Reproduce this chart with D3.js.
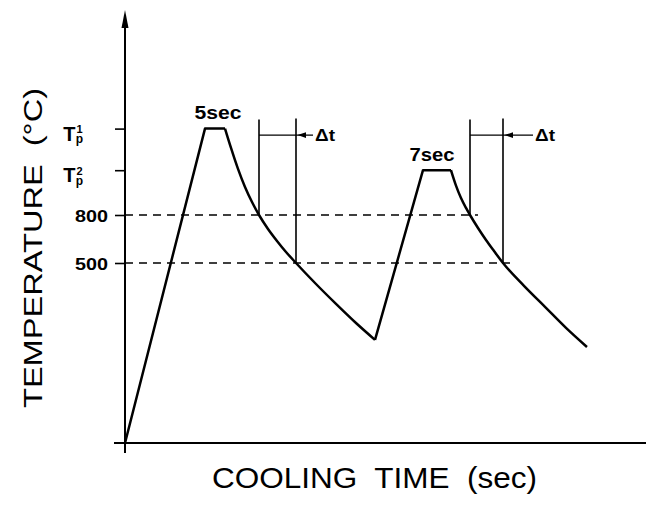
<!DOCTYPE html>
<html>
<head>
<meta charset="utf-8">
<script src="https://cdn.jsdelivr.net/npm/d3@7"></script>
<style>
  body { margin: 0; background: #fff; }
  svg { display: block; }
</style>
</head>
<body>
<svg id="chart" width="646" height="511"></svg>
<script>
// Double thermal cycle: heating to a peak, holding, then cooling; repeated twice.
const roomTemp = 20;                 // °C at the start of the cycle
const peakTemps = [1340, 1080];      // T_p^1, T_p^2 (°C)
const holdTimes = [5, 7];            // hold at peak (sec)
const riseStartTime = [0, 62.5];     // heating begins (sec)
const peakReachedTime = [20, 74.5];  // peak temperature reached (sec)

// Cooling branches after each hold (time in sec, temperature in °C)
const cool1Time = [26.5, 28.25, 30, 31.75, 33.5, 35.75, 38, 40.25, 42.75, 47.75, 52.75, 57.75, 62.5];
const cool1Temp = [1219, 1088, 975, 881, 800, 713, 638, 569, 500, 444, 391, 340, 295];
const cool2Time = [82.75, 84, 85.25, 86.25, 88.25, 90.25, 92.25, 94.5, 99.75, 105, 110.25, 115.5];
const cool2Temp = [984, 906, 844, 800, 719, 644, 575, 500, 439, 383, 327, 276];

// Reference levels (°C) and how far their dashed guides run (sec)
const refTemps = [800, 500];
const refEndTime = [88.25, 96.25];

// Temperature axis ticks
const tempTicks = [1340, 1080, 800, 500];
const tickMain = ["T", "T", "800", "500"];
const tickSup = ["1", "2", "", ""];
const tickSub = ["p", "p", "", ""];

const font = "'Liberation Sans', Arial, Helvetica, sans-serif";
const svg = d3.select("#chart");

const x = d3.scaleLinear().domain([0, 130]).range([125, 645]);
// Schematic temperature scale: piecewise linear through room temp, 500 and 800 °C
const y = d3.scaleLinear().domain([roomTemp, 500, 800]).range([443, 263, 215]);

const x0 = x(0), y0 = y(roomTemp);

// Axes
svg.append("line")
  .attr("x1", x0).attr("x2", x0).attr("y1", y0 + 10).attr("y2", 24)
  .attr("stroke", "#000").attr("stroke-width", 2);
svg.append("path")
  .attr("d", `M${x0},10 L${x0 - 3.5},28 L${x0 + 3.5},28 Z`)
  .attr("fill", "#000");
svg.append("line")
  .attr("x1", x0 - 11).attr("x2", 646).attr("y1", y0).attr("y2", y0)
  .attr("stroke", "#000").attr("stroke-width", 2);

// Temperature ticks
const yAxis = d3.axisLeft(y).tickValues(tempTicks).tickSize(10).tickSizeOuter(0)
  .tickFormat(() => "");
const gy = svg.append("g").attr("transform", `translate(${x0},0)`).call(yAxis);
gy.select(".domain").remove();
gy.selectAll(".tick line").attr("stroke", "#000").attr("stroke-width", 1.6);
gy.selectAll(".tick text").remove();
gy.selectAll(".tick").each(function (d, i) {
  const g = d3.select(this);
  if (tickSup[i]) {
    const t = g.append("text")
      .attr("x", -42).attr("y", 11.5)
      .attr("fill", "#000").attr("stroke", "none")
      .attr("font-family", font).attr("font-weight", "bold");
    t.append("tspan").text(tickMain[i]).attr("font-size", 20);
    t.append("tspan").text(tickSup[i]).attr("font-size", 11).attr("dx", 1).attr("dy", -7.5);
    t.append("tspan").text(tickSub[i]).attr("font-size", 12).attr("dx", -7).attr("dy", 10);
  } else {
    g.append("text").text(tickMain[i])
      .attr("x", -17).attr("y", 6)
      .attr("text-anchor", "end")
      .attr("fill", "#000").attr("stroke", "none")
      .attr("textLength", 33).attr("lengthAdjust", "spacingAndGlyphs")
      .attr("font-family", font).attr("font-size", 17).attr("font-weight", "bold");
  }
});

// Dashed reference levels
svg.selectAll(".ref").data(refTemps).join("line")
  .attr("class", "ref")
  .attr("x1", x0).attr("x2", (d, i) => x(refEndTime[i]))
  .attr("y1", d => y(d)).attr("y2", d => y(d))
  .attr("stroke", "#000").attr("stroke-width", 1.4)
  .attr("stroke-dasharray", "8,6");

// Thermal cycle curves
const lineLinear = d3.line().x(d => x(d[0])).y(d => y(d[1]));
const lineSmooth = d3.line().x(d => x(d[0])).y(d => y(d[1])).curve(d3.curveMonotoneX);

const coolings = [
  d3.zip(cool1Time, cool1Temp),
  d3.zip(cool2Time, cool2Temp)
];
const riseStartTemp = [roomTemp, cool1Temp[cool1Temp.length - 1]];

peakTemps.forEach((Tp, i) => {
  const holdEnd = peakReachedTime[i] + holdTimes[i];
  const heat = [[riseStartTime[i], riseStartTemp[i]], [peakReachedTime[i], Tp], [holdEnd, Tp]];
  const cool = [[holdEnd, Tp]].concat(coolings[i]);
  svg.append("path").attr("d", lineLinear(heat))
    .attr("fill", "none").attr("stroke", "#000").attr("stroke-width", 2.5)
    .attr("stroke-linejoin", "round");
  svg.append("path").attr("d", lineSmooth(cool))
    .attr("fill", "none").attr("stroke", "#000").attr("stroke-width", 2.5);
});

// Hold-time labels above each plateau
const holdLabelDx = [3, -5];
const holdLabelLen = [47, 45];
peakTemps.forEach((Tp, i) => {
  const cx = x(peakReachedTime[i] + holdTimes[i] / 2) + holdLabelDx[i];
  svg.append("text").text(`${holdTimes[i]}sec`)
    .attr("x", cx).attr("y", y(Tp) - 9.5)
    .attr("text-anchor", "middle")
    .attr("textLength", holdLabelLen[i]).attr("lengthAdjust", "spacingAndGlyphs")
    .attr("font-family", font).attr("font-size", 18).attr("font-weight", "bold");
});

// Δt markers: cooling time from 800 to 500 °C
function crossTime(times, temps, T) {
  for (let k = 1; k < temps.length; k++) {
    if ((temps[k - 1] - T) * (temps[k] - T) <= 0) {
      const f = (T - temps[k - 1]) / (temps[k] - temps[k - 1]);
      return times[k - 1] + f * (times[k] - times[k - 1]);
    }
  }
  return NaN;
}
const markTop = y(peakTemps[0]) - 9;
const barY = markTop + 15.5;
const arrowLen = [17, 30];
[[cool1Time, cool1Temp], [cool2Time, cool2Temp]].forEach(([ts, Ts], i) => {
  const tA = crossTime(ts, Ts, refTemps[0]);
  const tB = crossTime(ts, Ts, refTemps[1]);
  const xa = x(tA), xb = x(tB);
  svg.append("line").attr("x1", xa).attr("x2", xa).attr("y1", markTop).attr("y2", y(refTemps[0]))
    .attr("stroke", "#000").attr("stroke-width", 1.6);
  svg.append("line").attr("x1", xb).attr("x2", xb).attr("y1", markTop - 1).attr("y2", y(refTemps[1]))
    .attr("stroke", "#000").attr("stroke-width", 1.6);
  const xe = xb + arrowLen[i];
  svg.append("line").attr("x1", xa).attr("x2", xe).attr("y1", barY).attr("y2", barY)
    .attr("stroke", "#000").attr("stroke-width", 1.2);
  svg.append("path")
    .attr("d", `M${xb + 1.5},${barY} L${xb + 10},${barY - 2.8} L${xb + 10},${barY + 2.8} Z`)
    .attr("fill", "#000");
  svg.append("text").text("Δt")
    .attr("x", xe + 2).attr("y", barY + 6)
    .attr("textLength", 20).attr("lengthAdjust", "spacingAndGlyphs")
    .attr("font-family", font).attr("font-size", 17).attr("font-weight", "bold");
});

// Axis titles
svg.append("text")
  .attr("x", 212).attr("y", 488)
  .attr("textLength", 325).attr("lengthAdjust", "spacingAndGlyphs")
  .attr("font-family", font).attr("font-size", 29)
  .style("white-space", "pre")
  .text("COOLING  TIME  (sec)");

svg.append("text")
  .attr("transform", "translate(42,248) rotate(-90)")
  .attr("text-anchor", "middle")
  .attr("textLength", 320).attr("lengthAdjust", "spacingAndGlyphs")
  .attr("font-family", font).attr("font-size", 26)
  .style("white-space", "pre")
  .text("TEMPERATURE  (°C)");
</script>
</body>
</html>
